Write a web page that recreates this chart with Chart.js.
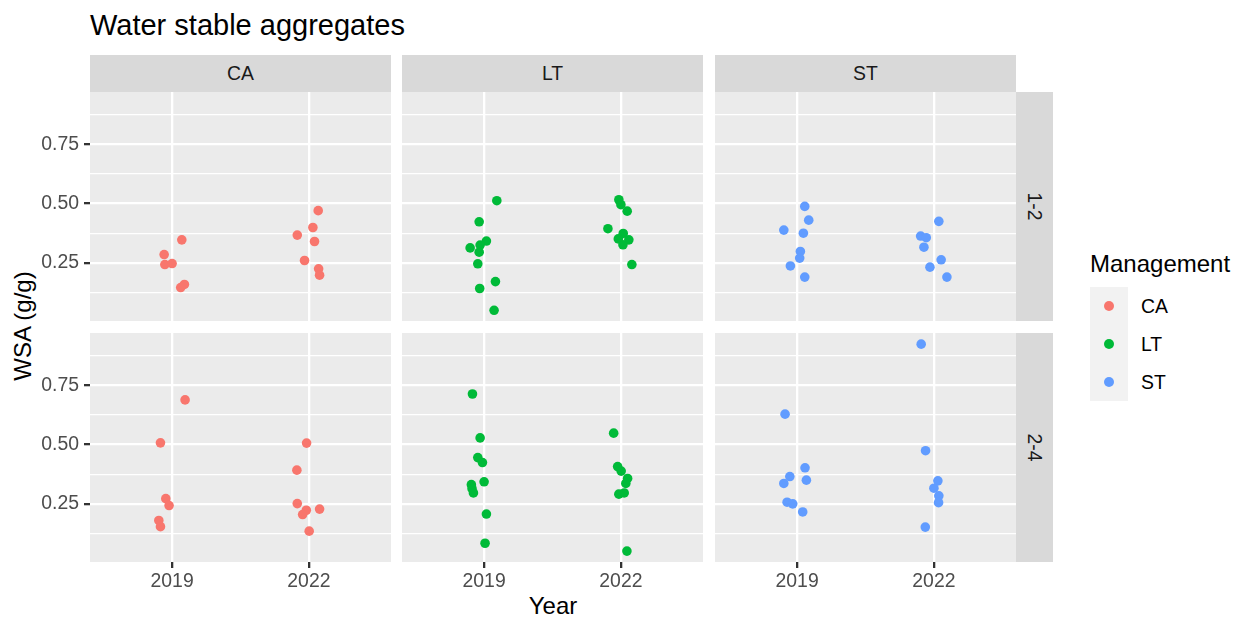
<!DOCTYPE html>
<html>
<head>
<meta charset="utf-8">
<title>Water stable aggregates</title>
<script src="https://cdn.jsdelivr.net/npm/chart.js@4.4.0/dist/chart.umd.min.js"></script>
<style>
    body { margin: 0; background: #fff; font-family: "Liberation Sans", Arial, sans-serif; }
    #plot { position: relative; width: 1241px; height: 617px; overflow: hidden; }
    #plot canvas { position: absolute; }
    .txt { position: absolute; white-space: nowrap; }
    .strip { position: absolute; background: #D9D9D9; color: #1A1A1A; font-size: 19.4px;
             display: flex; align-items: center; justify-content: center; }
    .strip.side span { transform: rotate(90deg); }
    .key { position: absolute; left: 1090px; width: 38px; height: 38px; background: #F2F2F2; }
    .key i { position: absolute; left: 14px; top: 14px; width: 10px; height: 10px; border-radius: 50%; }
    .keylabel { position: absolute; left: 1141px; height: 38px; line-height: 38px; font-size: 19.4px; color: #000; }
</style>
</head>
<body>
<div id="plot">
    <div class="txt" style="left:90px; top:11px; font-size:29px; line-height:29px; color:#000;">Water stable aggregates</div>
    <div class="txt" style="left:553px; top:594px; font-size:24px; line-height:24px; transform:translateX(-50%);">Year</div>
    <div class="txt" style="left:23px; top:326px; font-size:24px; line-height:24px; transform:translate(-50%,-50%) rotate(-90deg);">WSA (g/g)</div>
    <div class="txt" style="left:1090px; top:252px; font-size:24px; line-height:24px;">Management</div>
</div>

<script>
// Facets and categories
const years = ['2019', '2022'];
const managements = ['CA', 'LT', 'ST'];
const sizeClasses = ['1-2', '2-4'];
const colors = ['#F8766D', '#00BA38', '#619CFF'];

// y axis breaks (minor lines sit half way between)
const yMajorTicks = [0.25, 0.5, 0.75];
const yMinorTicks = [0.125, 0.375, 0.625, 0.875];
const yRange = [0.005, 0.970];

// Jittered year position (1 = 2019, 2 = 2022) and WSA, aggregate size 1-2 mm
const caSmallX = [1.071, 0.942, 0.947, 1.000, 1.090, 1.063, 2.068, 2.029, 1.915, 2.041, 1.968, 2.071, 2.078];
const caSmallY = [0.347, 0.285, 0.243, 0.247, 0.159, 0.146, 0.470, 0.399, 0.367, 0.340, 0.260, 0.225, 0.198];
const ltSmallX = [1.093, 0.964, 1.017, 0.971, 0.898, 0.964, 0.954, 1.083, 0.968, 1.073, 1.985, 2.000, 2.046, 1.905, 2.017, 1.981, 2.058, 2.015, 2.080];
const ltSmallY = [0.512, 0.423, 0.342, 0.325, 0.313, 0.295, 0.246, 0.171, 0.142, 0.050, 0.516, 0.495, 0.468, 0.394, 0.374, 0.351, 0.347, 0.326, 0.243];
const stSmallX = [1.056, 1.085, 0.903, 1.046, 1.024, 1.019, 0.951, 1.056, 2.036, 1.903, 1.944, 1.927, 2.053, 1.971, 2.095];
const stSmallY = [0.488, 0.430, 0.388, 0.375, 0.298, 0.270, 0.237, 0.190, 0.425, 0.363, 0.356, 0.316, 0.263, 0.232, 0.190];

// Aggregate size 2-4 mm
const caLargeX = [1.095, 0.915, 0.954, 0.978, 0.903, 0.915, 1.983, 1.912, 1.915, 2.078, 1.981, 1.954, 2.002];
const caLargeY = [0.688, 0.507, 0.272, 0.243, 0.180, 0.154, 0.506, 0.392, 0.251, 0.228, 0.223, 0.205, 0.135];
const ltLargeX = [0.915, 0.971, 0.954, 0.988, 1.000, 0.907, 0.912, 0.922, 1.017, 1.007, 1.947, 1.976, 2.002, 2.049, 2.036, 2.024, 1.985, 2.044];
const ltLargeY = [0.713, 0.528, 0.445, 0.424, 0.343, 0.331, 0.314, 0.296, 0.207, 0.084, 0.548, 0.407, 0.388, 0.357, 0.336, 0.296, 0.291, 0.051];
const stLargeX = [0.912, 1.058, 0.947, 1.068, 0.903, 0.927, 0.968, 1.041, 1.907, 1.939, 2.029, 2.000, 2.036, 2.034, 1.937];
const stLargeY = [0.628, 0.402, 0.365, 0.350, 0.336, 0.257, 0.250, 0.216, 0.923, 0.474, 0.347, 0.316, 0.284, 0.255, 0.152];

const panels = [
    [[caSmallX, caSmallY], [ltSmallX, ltSmallY], [stSmallX, stSmallY]],
    [[caLargeX, caLargeY], [ltLargeX, ltLargeY], [stLargeX, stLargeY]]
];

// Panel grid geometry
const colLeft = [90, 402, 715];
const panelW = 301;
const rowTop = [92, 333];
const panelH = 229;
const yAxisW = 90;
const xAxisH = 56;

const plot = document.getElementById('plot');
const axisFont = { family: '"Liberation Sans", Arial, sans-serif', size: 19.4 };

function addDiv(cls, style, text) {
    const d = document.createElement('div');
    d.className = cls;
    Object.assign(d.style, style);
    const s = document.createElement('span');
    s.textContent = text;
    d.appendChild(s);
    plot.appendChild(d);
    return d;
}

function makePanel(row, col) {
    const showY = col === 0;
    const showX = row === 1;
    const left = showY ? 0 : colLeft[col];
    const width = colLeft[col] + panelW - left;
    const height = panelH + (showX ? xAxisH : 0);

    const canvas = document.createElement('canvas');
    canvas.width = width;
    canvas.height = height;
    canvas.style.left = left + 'px';
    canvas.style.top = rowTop[row] + 'px';
    plot.appendChild(canvas);

    const [xs, ys] = panels[row][col];
    const points = xs.map((x, i) => ({ x: x, y: ys[i] }));

    new Chart(canvas.getContext('2d'), {
        type: 'scatter',
        data: {
            datasets: [{
                label: managements[col],
                data: points,
                backgroundColor: colors[col],
                borderWidth: 0,
                pointRadius: 4.8,
                pointHoverRadius: 4.8
            }]
        },
        plugins: [{
            id: 'panelBackground',
            beforeDraw(chart) {
                const a = chart.chartArea;
                const c = chart.ctx;
                c.save();
                c.fillStyle = '#EBEBEB';
                c.fillRect(a.left, a.top, a.right - a.left, a.bottom - a.top);
                c.restore();
            }
        }],
        options: {
            responsive: false,
            animation: false,
            devicePixelRatio: 1,
            events: [],
            layout: { padding: 0, autoPadding: false },
            plugins: {
                legend: { display: false },
                tooltip: { enabled: false }
            },
            scales: {
                x: {
                    type: 'linear',
                    min: 0.4,
                    max: 2.6,
                    afterBuildTicks: axis => { axis.ticks = years.map((y, i) => ({ value: i + 1 })); },
                    afterFit: axis => { axis.height = showX ? xAxisH : 0; axis.paddingLeft = 0; axis.paddingRight = 0; },
                    border: { display: false },
                    grid: {
                        color: '#FFFFFF',
                        lineWidth: 2.3,
                        drawTicks: showX,
                        tickLength: 6,
                        tickColor: '#333333',
                        tickWidth: 2.3
                    },
                    ticks: {
                        display: showX,
                        autoSkip: false,
                        maxRotation: 0,
                        padding: 2,
                        color: '#4D4D4D',
                        font: axisFont,
                        callback: v => years[Math.round(v) - 1]
                    }
                },
                y: {
                    type: 'linear',
                    min: yRange[0],
                    max: yRange[1],
                    afterBuildTicks: axis => {
                        axis.ticks = yMinorTicks.concat(yMajorTicks).sort((a, b) => a - b).map(v => ({ value: v }));
                    },
                    afterFit: axis => { axis.width = showY ? yAxisW : 0; axis.paddingTop = 0; axis.paddingBottom = 0; },
                    border: { display: false },
                    grid: {
                        color: '#FFFFFF',
                        lineWidth: ctx => yMajorTicks.includes(ctx.tick.value) ? 2.3 : 1.2,
                        drawTicks: showY,
                        tickLength: 6,
                        tickColor: ctx => yMajorTicks.includes(ctx.tick.value) ? '#333333' : 'rgba(0,0,0,0)',
                        tickWidth: 2.3
                    },
                    ticks: {
                        display: showY,
                        autoSkip: false,
                        padding: 5,
                        color: '#4D4D4D',
                        font: axisFont,
                        callback: v => yMajorTicks.includes(v) ? v.toFixed(2) : ''
                    }
                }
            }
        }
    });
}

// Build the facet grid
sizeClasses.forEach((sz, r) => {
    managements.forEach((m, c) => makePanel(r, c));
});

// Strip labels across the top and down the right side
managements.forEach((m, c) => {
    addDiv('strip', { left: colLeft[c] + 'px', top: '55px', width: panelW + 'px', height: '37px' }, m);
});
sizeClasses.forEach((sz, r) => {
    addDiv('strip side', { left: '1016px', top: rowTop[r] + 'px', width: '37px', height: panelH + 'px' }, sz);
});

// Legend keys
managements.forEach((m, i) => {
    const key = document.createElement('div');
    key.className = 'key';
    key.style.top = (287 + i * 38) + 'px';
    const dot = document.createElement('i');
    dot.style.background = colors[i];
    key.appendChild(dot);
    plot.appendChild(key);

    const label = document.createElement('div');
    label.className = 'keylabel';
    label.style.top = (287 + i * 38) + 'px';
    label.textContent = m;
    plot.appendChild(label);
});
</script>
</body>
</html>
